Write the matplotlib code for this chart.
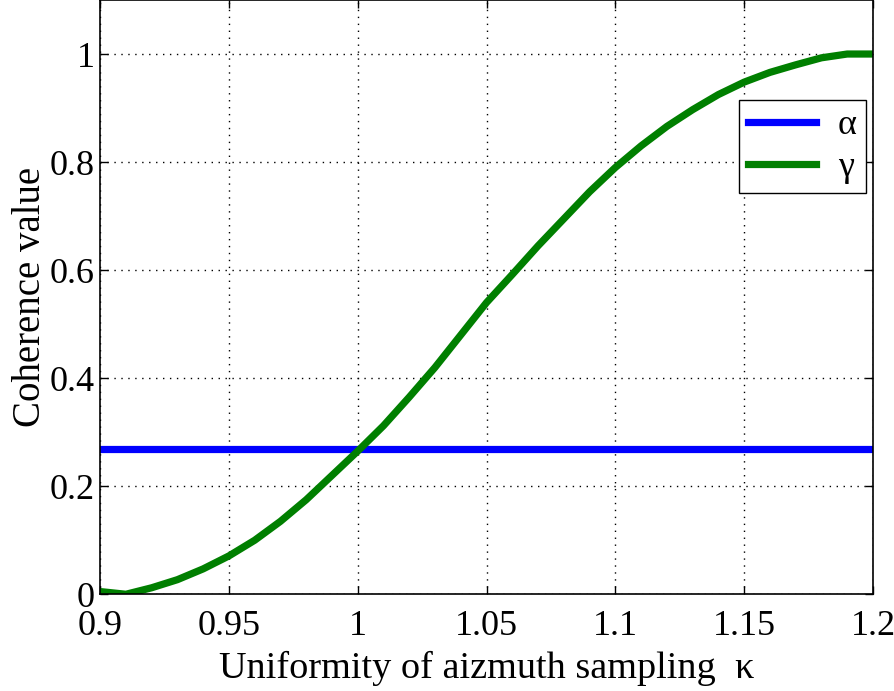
import numpy as np
import matplotlib.pyplot as plt

plt.rcParams['font.family'] = ['Liberation Serif', 'DejaVu Serif']
plt.rcParams['mathtext.fontset'] = 'stix'

kappa = [0.90, 0.91, 0.92, 0.93, 0.94, 0.95, 0.96, 0.97, 0.98, 0.99,
         1.00, 1.01, 1.02, 1.03, 1.04, 1.05, 1.06, 1.07, 1.08, 1.09,
         1.10, 1.11, 1.12, 1.13, 1.14, 1.15, 1.16, 1.17, 1.18, 1.19, 1.20]
gamma = [0.005, 0.0, 0.012, 0.027, 0.047, 0.071, 0.100, 0.135, 0.175, 0.220,
         0.265, 0.312, 0.365, 0.420, 0.480, 0.540, 0.592, 0.645, 0.695, 0.745,
         0.790, 0.830, 0.866, 0.897, 0.925, 0.948, 0.966, 0.980, 0.993, 1.0, 1.0]
alpha = 0.268

xticks = [0.9, 0.95, 1.0, 1.05, 1.1, 1.15, 1.2]
xticklabels = ['0.9', '0.95', '1', '1.05', '1.1', '1.15', '1.2']
yticks = [0, 0.2, 0.4, 0.6, 0.8, 1.0]
yticklabels = ['0', '0.2', '0.4', '0.6', '0.8', '1']

fig = plt.figure(figsize=(8.94, 6.91), dpi=100)
ax = fig.add_axes([0.112, 0.140, 0.8645, 0.860])

ax.plot(kappa, [alpha] * len(kappa), color='#0000ff', lw=5.2, label='α')
ax.plot(kappa, gamma, color='#007f00', lw=5.2, label='γ')

ax.set_xlim(0.9, 1.2)
ax.set_ylim(0, 1.1)
ax.set_xticks(xticks)
ax.set_xticklabels(xticklabels)
ax.set_yticks(yticks)
ax.set_yticklabels(yticklabels)
ax.tick_params(direction='in', length=6, width=1, labelsize=26,
               top=True, right=True)
ax.tick_params(axis='x', pad=11)
ax.tick_params(axis='y', pad=4)
ax.grid(True, color='black', linestyle=(0, (1, 4)), lw=1.0)
for s in ax.spines.values():
    s.set_linewidth(1.2)

ax.set_xlabel('Uniformity of aizmuth sampling  κ', fontsize=27.5, labelpad=6)
ax.set_ylabel('Coherence value', fontsize=28, labelpad=0)

leg = ax.legend(loc='upper right', bbox_to_anchor=(0.991, 0.832), fontsize=26,
                fancybox=False, framealpha=1, edgecolor='black',
                handlelength=1.9, borderpad=0.25, labelspacing=0.25,
                handletextpad=0.6, borderaxespad=0)
leg.get_frame().set_linewidth(1.0)

fig.savefig('out.png', dpi=100)
